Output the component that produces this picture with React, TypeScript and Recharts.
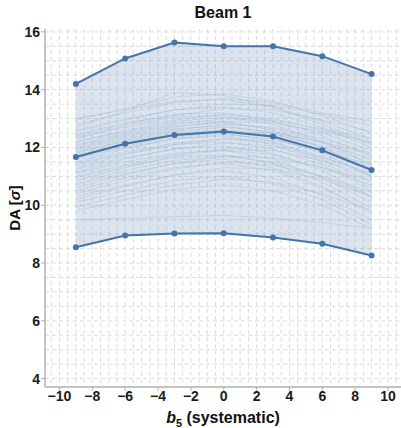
import React from "react"
import { ComposedChart, Area, Line, XAxis, YAxis, CartesianGrid } from "recharts"

// b5 values scanned
const b5 = [-9, -6, -3, 0, 3, 6, 9]

// envelope + mean over seeds
const maxDA = [14.2, 15.08, 15.63, 15.5, 15.5, 15.16, 14.54]
const meanDA = [11.67, 12.13, 12.43, 12.55, 12.38, 11.9, 11.22]
const minDA = [8.55, 8.95, 9.02, 9.03, 8.88, 8.67, 8.26]

// individual seeds
const seeds: number[][] = [
  [13.0, 13.3, 13.6, 13.65, 13.4, 12.9, 12.3],
  [12.95, 13.35, 13.75, 13.85, 13.6, 13.1, 12.5],
  [12.8, 13.2, 13.55, 13.7, 13.55, 13.2, 12.9],
  [12.7, 13.25, 13.9, 13.8, 13.4, 12.8, 12.1],
  [12.6, 13.0, 13.3, 13.5, 13.45, 13.15, 12.75],
  [12.55, 12.95, 13.3, 13.4, 13.2, 12.7, 12.0],
  [12.45, 12.85, 13.1, 13.35, 13.3, 12.95, 12.55],
  [12.4, 12.8, 13.15, 13.2, 12.9, 12.4, 11.7],
  [12.35, 12.7, 12.95, 13.15, 13.0, 12.6, 12.2],
  [12.3, 12.75, 13.05, 13.1, 12.8, 12.2, 11.4],
  [12.2, 12.6, 12.9, 13.05, 12.95, 12.65, 12.3],
  [12.2, 12.55, 12.85, 12.9, 12.6, 12.0, 11.2],
  [12.1, 12.5, 12.8, 13.0, 12.9, 12.5, 11.9],
  [12.05, 12.45, 12.75, 12.85, 12.65, 12.2, 11.6],
  [12.0, 12.4, 12.7, 12.9, 12.85, 12.55, 12.15],
  [11.95, 12.35, 12.65, 12.75, 12.5, 12.0, 11.3],
  [11.9, 12.3, 12.6, 12.8, 12.7, 12.3, 11.8],
  [11.85, 12.2, 12.5, 12.6, 12.35, 11.8, 11.0],
  [11.8, 12.25, 12.55, 12.7, 12.55, 12.15, 11.55],
  [11.75, 12.15, 12.45, 12.6, 12.45, 12.05, 11.45],
  [11.7, 12.1, 12.4, 12.5, 12.2, 11.6, 10.8],
  [11.65, 12.05, 12.35, 12.55, 12.5, 12.2, 11.75],
  [11.6, 12.0, 12.3, 12.4, 12.1, 11.5, 10.6],
  [11.5, 11.95, 12.3, 12.45, 12.3, 11.85, 11.2],
  [11.45, 11.85, 12.15, 12.3, 12.15, 11.7, 11.05],
  [11.4, 11.8, 12.1, 12.2, 11.95, 11.4, 10.5],
  [11.3, 11.75, 12.1, 12.3, 12.25, 11.9, 11.4],
  [11.25, 11.65, 11.95, 12.05, 11.8, 11.2, 10.3],
  [11.15, 11.6, 11.95, 12.15, 12.05, 11.65, 11.1],
  [11.1, 11.5, 11.8, 11.9, 11.6, 10.95, 10.1],
  [11.0, 11.4, 11.75, 11.95, 11.9, 11.55, 11.0],
  [10.95, 11.35, 11.65, 11.75, 11.45, 10.8, 9.9],
  [10.85, 11.3, 11.7, 11.9, 11.75, 11.3, 10.7],
  [10.75, 11.2, 11.55, 11.7, 11.5, 11.0, 10.3],
  [10.7, 11.1, 11.45, 11.6, 11.3, 10.65, 9.7],
  [10.6, 11.05, 11.45, 11.7, 11.65, 11.3, 10.85],
  [10.5, 10.95, 11.3, 11.45, 11.2, 10.6, 9.8],
  [10.4, 10.85, 11.25, 11.5, 11.4, 11.0, 10.45],
  [10.3, 10.7, 11.05, 11.2, 10.95, 10.35, 9.5],
  [10.2, 10.65, 11.05, 11.3, 11.25, 10.9, 10.3],
  [10.1, 10.5, 10.85, 11.0, 10.75, 10.2, 9.35],
  [9.95, 10.35, 10.7, 10.9, 10.8, 10.4, 9.8],
  [9.8, 10.2, 10.55, 10.7, 10.5, 10.0, 9.2],
  [9.5, 9.55, 9.6, 9.65, 9.55, 9.4, 9.2],
]

const xTicks = [-10, -8, -6, -4, -2, 0, 2, 4, 6, 8, 10]
const yTicks = [4, 6, 8, 10, 12, 14, 16]

const data = b5.map((x, i) => {
  const row: Record<string, any> = {
    x,
    range: [minDA[i], maxDA[i]],
    max: maxDA[i],
    mean: meanDA[i],
    min: minDA[i],
  }
  seeds.forEach((s, k) => { row["s" + k] = s[i] })
  return row
})

const W = 401
const H = 428
const X_DOMAIN: [number, number] = [-10.88, 10.79]
const Y_DOMAIN: [number, number] = [3.71, 16.1]
const BLUE = "#4474aa"
const FONT = "'Liberation Sans', Arial, sans-serif"

// plot box in px (margin/axis sizes below)
const PL = 45, PR = W, PT = 29, PB = H - 41

const gridX: number[] = []
for (let v = -10.5; v <= 10.5; v += 0.5) gridX.push(PL + ((v - X_DOMAIN[0]) / (X_DOMAIN[1] - X_DOMAIN[0])) * (PR - PL))
const gridY: number[] = []
for (let v = 4; v <= 16; v += 0.5) gridY.push(PB - ((v - Y_DOMAIN[0]) / (Y_DOMAIN[1] - Y_DOMAIN[0])) * (PB - PT))

const fmt = (v: number) => (v < 0 ? `\u2212${-v}` : `${v}`)

const tickStyle = { fontFamily: FONT, fontSize: 14, fontWeight: 700, fill: "#1a1a1a" }

export default function App() {
  return (
    <div style={{ position: "absolute", left: 0, top: 0, width: W, height: H, background: "#fff", fontFamily: FONT }}>
      <div style={{ position: "absolute", left: 45, width: 356, top: 4, textAlign: "center", fontSize: 16, fontWeight: 700, color: "#111" }}>
        Beam 1
      </div>
      <ComposedChart width={W} height={H} data={data} margin={{ top: 29, right: 0, bottom: 0, left: 0 }}>
        <CartesianGrid
          strokeDasharray="4 3"
          stroke="#dcdcdc"
          horizontalCoordinatesGenerator={() => gridY}
          verticalCoordinatesGenerator={() => gridX}
        />
        <XAxis
          xAxisId="top"
          orientation="top"
          type="number"
          dataKey="x"
          domain={X_DOMAIN}
          ticks={[]}
          tick={false}
          height={0}
          axisLine={{ stroke: "#b8b8b8" }}
          tickLine={false}
        />
        <XAxis
          type="number"
          dataKey="x"
          domain={X_DOMAIN}
          ticks={xTicks}
          tickFormatter={fmt}
          tick={tickStyle}
          height={41}
          tickSize={4}
          tickMargin={0}
          axisLine={{ stroke: "#b0b0b0", strokeWidth: 1.5 }}
          tickLine={{ stroke: "#b0b0b0" }}
          allowDataOverflow
          label={() => (
            <text x={223} y={423} textAnchor="middle"
              fontFamily={FONT} fontSize={16} fontWeight={700} fill="#111">
              <tspan fontStyle="italic">b</tspan>
              <tspan fontSize={11} dy={4}>5</tspan>
              <tspan dy={-4}> (systematic)</tspan>
            </text>
          )}
        />
        <YAxis
          type="number"
          domain={Y_DOMAIN}
          ticks={yTicks}
          tick={tickStyle}
          width={45}
          tickSize={4}
          tickMargin={1}
          axisLine={{ stroke: "#b0b0b0", strokeWidth: 1.5 }}
          tickLine={{ stroke: "#b0b0b0" }}
          allowDataOverflow
          label={() => (
            <text x={20} y={208} textAnchor="middle"
              transform="rotate(-90, 20, 208)"
              fontFamily={FONT} fontSize={15} fontWeight={700} fill="#111">
              DA [<tspan fontStyle="italic">σ</tspan>]
            </text>
          )}
        />
        <Area
          dataKey="range"
          type="linear"
          stroke="none"
          fill="#6a90bd"
          fillOpacity={0.25}
          isAnimationActive={false}
          activeDot={false}
        />
        {seeds.map((_, k) => (
          <Line
            key={k}
            dataKey={"s" + k}
            type="linear"
            stroke="#8aa8cc"
            strokeOpacity={0.35}
            strokeWidth={0.8}
            dot={false}
            activeDot={false}
            isAnimationActive={false}
          />
        ))}
        {["max", "mean", "min"].map((key) => (
          <Line
            key={key}
            dataKey={key}
            type="linear"
            stroke={BLUE}
            strokeWidth={2}
            dot={{ r: 3, fill: BLUE, stroke: BLUE, strokeWidth: 0 }}
            activeDot={false}
            isAnimationActive={false}
          />
        ))}
      </ComposedChart>
    </div>
  )
}
